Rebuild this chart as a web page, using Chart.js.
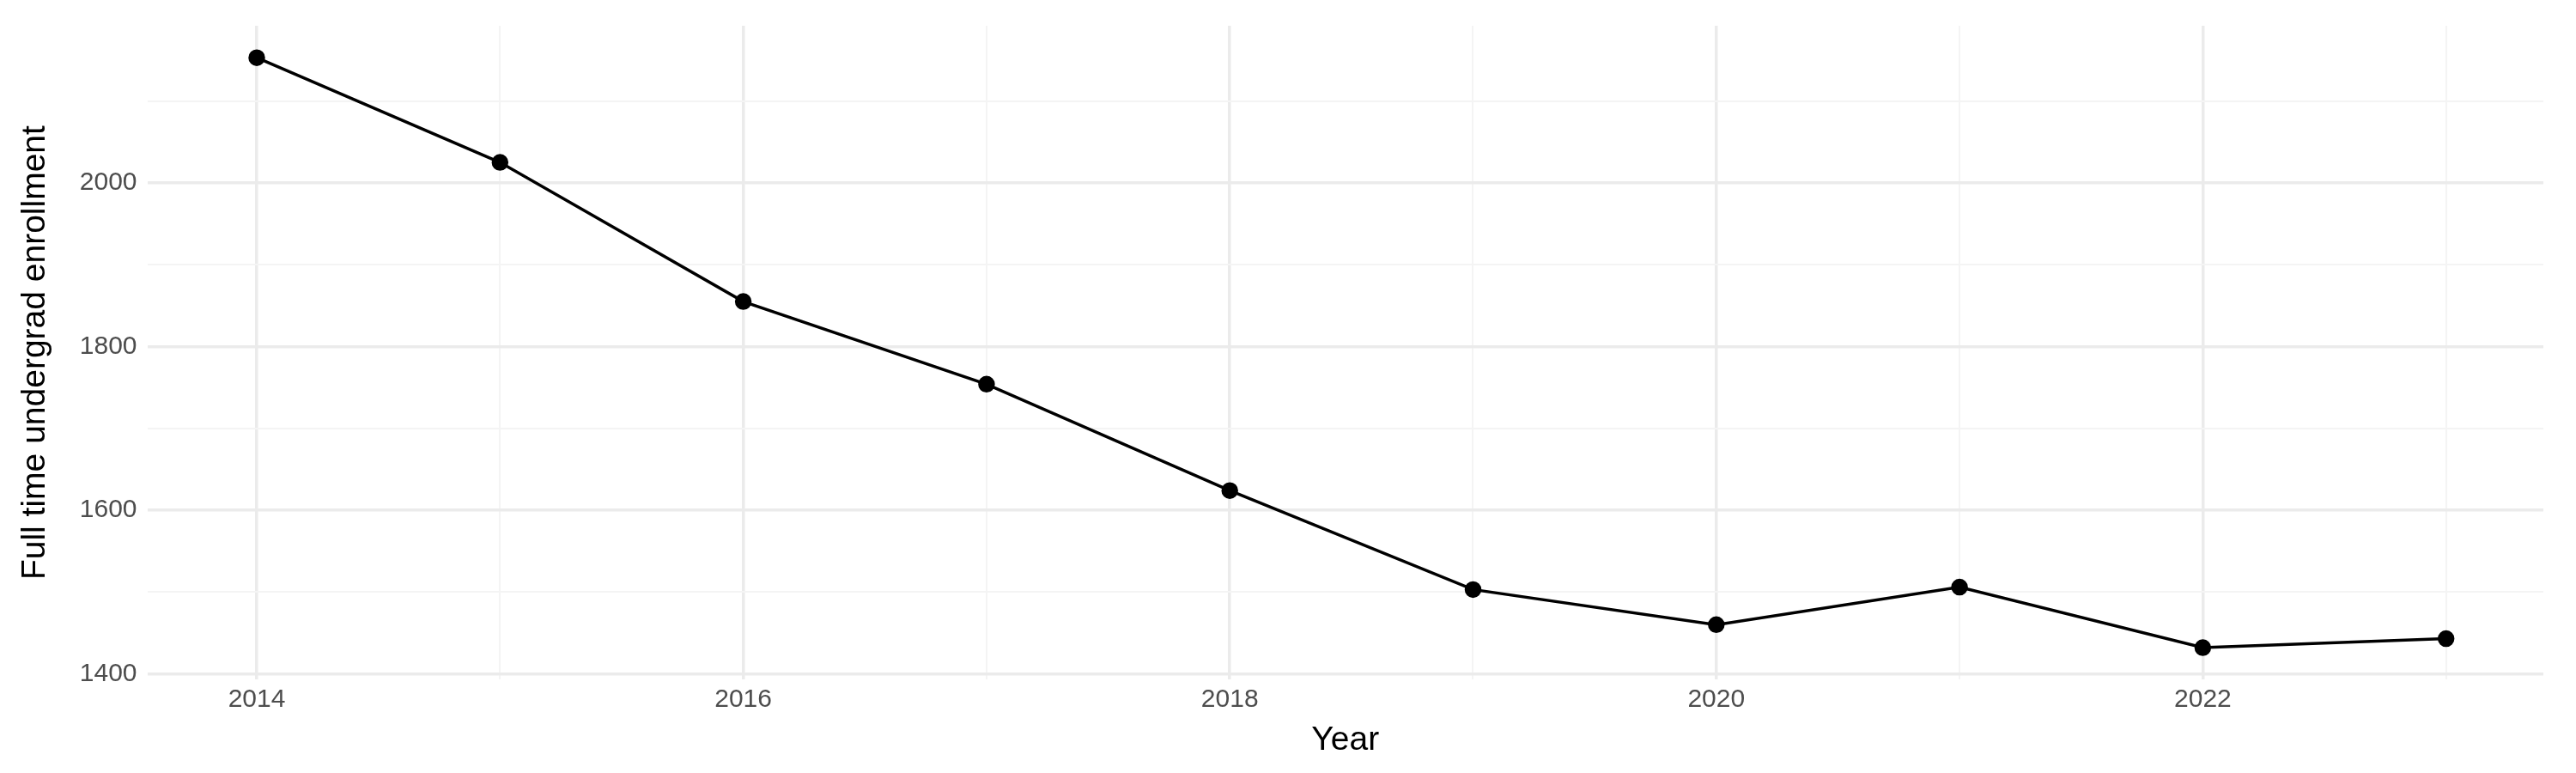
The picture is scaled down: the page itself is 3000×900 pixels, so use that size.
<!DOCTYPE html>
<html lang="en">
<head>
<meta charset="UTF-8">
<title>enrollment</title>
<script src="https://cdn.jsdelivr.net/npm/chart.js"></script>
<style>
  body { margin: 0; background: #fff; }
  #wrap { width: 3000px; height: 900px; }
</style>
</head>
<body>
<div id="wrap"><canvas id="myChart"></canvas></div>
<script>
const years = [2014, 2015, 2016, 2017, 2018, 2019, 2020, 2021, 2022, 2023];
const enrollment = [2153, 2025, 1855, 1754, 1624, 1503, 1460, 1506, 1432, 1443];
const yTickLabels = [1400, 1600, 1800, 2000];
const xTickLabels = [2014, 2016, 2018, 2020, 2022];

const tickFont = { family: 'Liberation Sans', size: 30 };
const titleFont = { family: 'Liberation Sans', size: 39 };

new Chart(document.getElementById('myChart'), {
  type: 'line',
  data: {
    datasets: [{
      data: years.map((y, i) => ({ x: y, y: enrollment[i] })),
      borderColor: '#000',
      backgroundColor: '#000',
      borderWidth: 3.5,
      pointRadius: 8,
      pointHoverRadius: 8,
      tension: 0
    }]
  },
  options: {
    responsive: true,
    maintainAspectRatio: false,
    animation: false,
    layout: { padding: { top: 18, right: 38, bottom: 14, left: 14 } },
    plugins: { legend: { display: false }, tooltip: { enabled: false } },
    scales: {
      x: {
        type: 'linear',
        min: 2013.55,
        max: 2023.4,
        border: { display: false },
        grid: {
          color: ctx => xTickLabels.includes(ctx.tick.value) ? '#ebebeb' : '#f4f4f4',
          lineWidth: ctx => xTickLabels.includes(ctx.tick.value) ? 3.5 : 2,
          drawTicks: false
        },
        afterBuildTicks: axis => { axis.ticks = years.map(v => ({ value: v })); },
        ticks: {
          color: '#4d4d4d', font: tickFont, padding: 6, autoSkip: false, maxRotation: 0,
          callback: v => xTickLabels.includes(v) ? String(v) : ''
        },
        title: { display: true, text: 'Year', color: '#000', font: titleFont, padding: { top: 0, bottom: 0 } }
      },
      y: {
        min: 1393,
        max: 2192,
        border: { display: false },
        grid: {
          color: ctx => yTickLabels.includes(ctx.tick.value) ? '#ebebeb' : '#f4f4f4',
          lineWidth: ctx => yTickLabels.includes(ctx.tick.value) ? 3.5 : 2,
          drawTicks: false
        },
        afterBuildTicks: axis => {
          axis.ticks = [1400, 1500, 1600, 1700, 1800, 1900, 2000, 2100].map(v => ({ value: v }));
        },
        ticks: {
          color: '#4d4d4d', font: tickFont, padding: 12, autoSkip: false,
          callback: v => yTickLabels.includes(v) ? String(v) : ''
        },
        title: { display: true, text: 'Full time undergrad enrollment', color: '#000', font: titleFont, padding: { bottom: 16 } }
      }
    }
  }
});
</script>
</body>
</html>
